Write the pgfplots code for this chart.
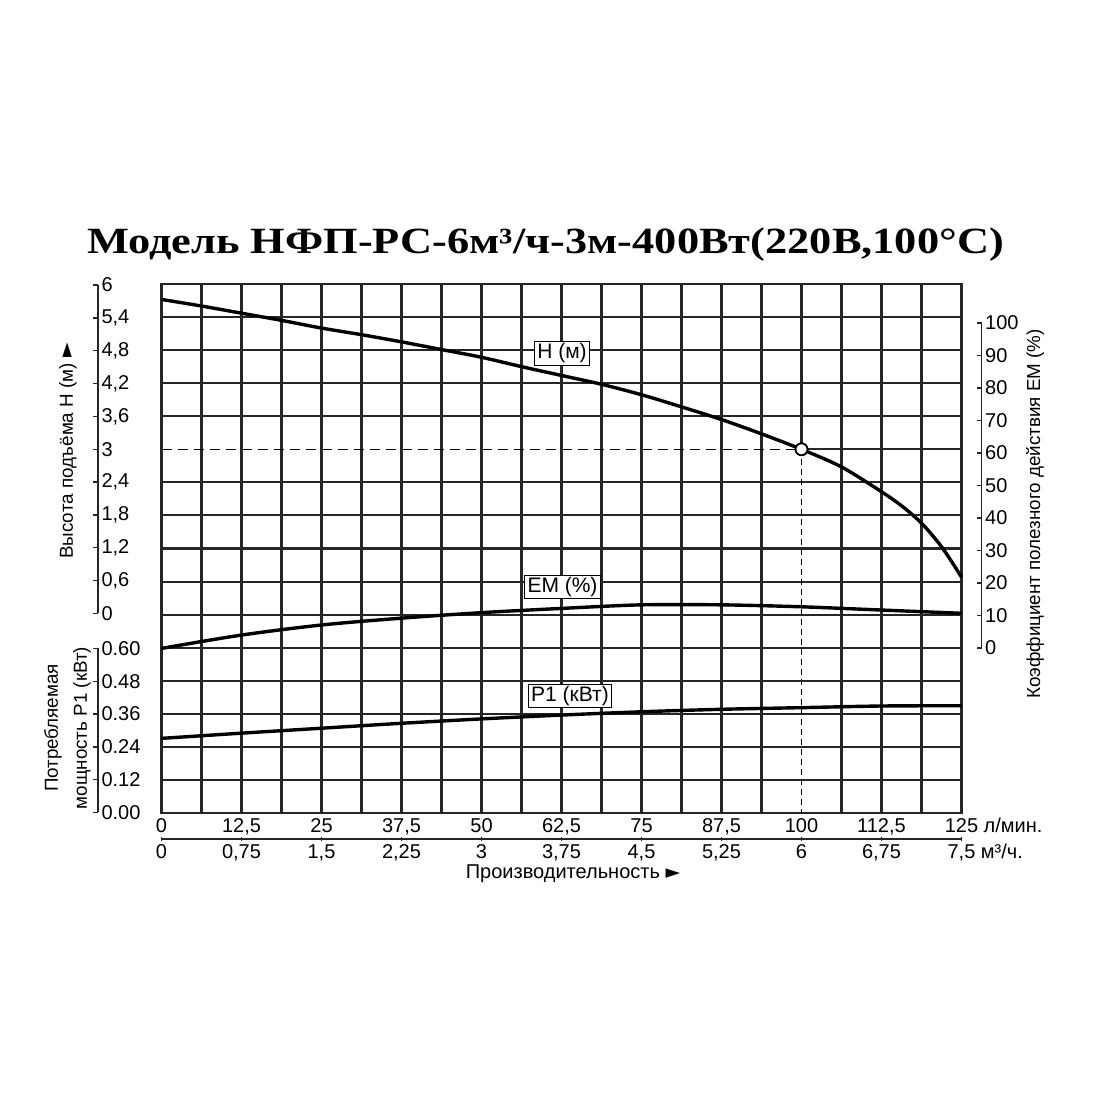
\documentclass[border=0pt]{standalone}
\usepackage{fontspec}
\setmainfont{Liberation Sans}
\newfontfamily\titlefont{Liberation Serif}
\newfontfamily\symfont{DejaVu Sans}
\usepackage{pgfplots}
\pgfplotsset{compat=1.18}
\tikzset{tl/.style={font=\fontsize{20}{23}\selectfont},
  al/.style={font=\fontsize{18.8}{22}\selectfont},
  bl/.style={draw=black, fill=white, line width=1pt, inner xsep=3pt, inner ysep=2pt, font=\fontsize{21}{24}\selectfont}}
\begin{document}
\begin{tikzpicture}[x=1pt,y=1pt]
\useasboundingbox (0,0) rectangle (1100,1100);
\pgfplotsset{every axis/.append style={scale only axis}}
% title
\node[anchor=base, xscale=1.2, font=\titlefont\bfseries\fontsize{37}{40}\selectfont] at (545.5,846) {Модель НФП-РС-6м³/ч-3м-400Вт(220В,100°С)};

% grid + H curve
\begin{axis}[at={(161.5pt,287pt)}, anchor=south west, width=800pt, height=529pt,
  xmin=0, xmax=125, ymin=-3.6, ymax=6,
  xtick={0,6.25,12.5,18.75,25,31.25,37.5,43.75,50,56.25,62.5,68.75,75,81.25,87.5,93.75,106.25,112.5,118.75,125},
  ytick={-3.6,-3,-2.4,-1.8,-1.2,-0.6,0,0.6,1.2,1.8,2.4,3.6,4.2,4.8,5.4,6},
  xticklabels={}, yticklabels={}, major tick length=0pt,
  grid=major, major grid style={black!85, line width=2.1pt},
  axis line style={black!85, line width=2.1pt}, clip=false]
  \draw[black!85, line width=2.1pt] (axis cs:100,3) -- (axis cs:100,6);
  \draw[black!85, line width=2.1pt] (axis cs:100,3) -- (axis cs:125,3);
  \addplot[black, line width=1.6pt, dash pattern=on 10pt off 6pt] coordinates {(0,3) (100,3)};
  \addplot[black, line width=1.8pt, dash pattern=on 6pt off 4pt] coordinates {(100,3) (100,-3.6)};
  \addplot[black, line width=3.4pt, smooth] coordinates {
    (0,5.72) (6.25,5.60) (12.5,5.47) (18.75,5.34) (25,5.20) (31.25,5.08) (37.5,4.95)
    (43.75,4.81) (50,4.67) (56.25,4.50) (62.5,4.34) (68.75,4.18) (75,3.99) (81.25,3.77)
    (87.5,3.54) (93.75,3.28) (100,3.00) (106.25,2.68) (112.5,2.23) (115.8,1.96)
    (118.75,1.66) (121.5,1.29) (123.3,0.99) (125,0.68)};
  \addplot[only marks, mark=*, mark size=6pt, mark options={fill=white, draw=black, line width=1.8pt}] coordinates {(100,3)};
\end{axis}

% EM curve
\begin{axis}[at={(161.5pt,451.6pt)}, anchor=south west, width=800pt, height=325pt,
  xmin=0, xmax=125, ymin=0, ymax=100, hide axis, clip=false]
  \addplot[black, line width=3.4pt, smooth] coordinates {
    (0,0) (12.5,4.1) (25,7.2) (37.5,9.3) (50,11.0) (62.5,12.3) (75,13.4) (87.5,13.4)
    (100,12.8) (112.5,11.8) (125,10.8)};
\end{axis}

% P1 curve
\begin{axis}[at={(161.5pt,287pt)}, anchor=south west, width=800pt, height=164.6pt,
  xmin=0, xmax=125, ymin=0, ymax=0.6, hide axis, clip=false]
  \addplot[black, line width=3.4pt, smooth] coordinates {
    (0,0.272) (12.5,0.291) (25,0.309) (37.5,0.327) (50,0.343) (62.5,0.357) (75,0.369)
    (87.5,0.378) (100,0.384) (112.5,0.390) (125,0.391)};
\end{axis}

% H scale
\begin{axis}[at={(97pt,486.5pt)}, anchor=south west, width=1pt, height=328.5pt,
  xmin=0, xmax=1, ymin=0, ymax=6, hide x axis, axis y line*=right,
  y axis line style={-, line width=1.4pt, black!85},
  ytick={0,0.6,1.2,1.8,2.4,3,3.6,4.2,4.8,5.4,6},
  yticklabels={0,{0,6},{1,2},{1,8},{2,4},3,{3,6},{4,2},{4,8},{5,4},6},
  tick align=inside, major tick length=5pt, tick style={line width=1.4pt, black!85},
  yticklabel style={tl, anchor=west}]
  \addplot[draw=none] coordinates {(0,0)};
\end{axis}

% P1 scale
\begin{axis}[at={(97pt,287.5pt)}, anchor=south west, width=1pt, height=164pt,
  xmin=0, xmax=1, ymin=0, ymax=0.6, hide x axis, axis y line*=right,
  y axis line style={-, line width=1.4pt, black!85},
  ytick={0,0.12,0.24,0.36,0.48,0.6},
  yticklabels={0.00,0.12,0.24,0.36,0.48,0.60},
  tick align=inside, major tick length=5pt, tick style={line width=1.4pt, black!85},
  yticklabel style={tl, anchor=west}]
  \addplot[draw=none] coordinates {(0,0)};
\end{axis}

% EM scale
\begin{axis}[at={(980.7pt,452pt)}, anchor=south west, width=1pt, height=325pt,
  xmin=0, xmax=1, ymin=0, ymax=100, hide x axis, axis y line*=right,
  y axis line style={-, line width=1.4pt, black!85},
  ytick={0,10,20,30,40,50,60,70,80,90,100},
  yticklabels={0,10,20,30,40,50,60,70,80,90,100},
  tick align=inside, major tick length=5pt, tick style={line width=1.4pt, black!85},
  yticklabel style={tl, anchor=west}]
  \addplot[draw=none] coordinates {(0,0)};
\end{axis}

% x scale: l/min (above line)
\begin{axis}[at={(161.5pt,261pt)}, anchor=north west, width=800pt, height=5pt,
  xmin=0, xmax=125, ymin=0, ymax=1, hide y axis, axis x line*=top, xticklabel pos=upper,
  x axis line style={-, line width=1.4pt, black!85},
  xtick={0,12.5,25,37.5,50,62.5,75,87.5,100,112.5,125},
  xticklabels={0,{12,5},25,{37,5},50,{62,5},75,{87,5},100,{112,5},{125\rlap{\ л/мин.}}},
  tick align=center, major tick length=4pt, tick style={line width=1.4pt, black!85},
  xticklabel style={tl, anchor=base, text height=14pt, text depth=0pt, inner sep=0pt, yshift=4pt}]
  \addplot[draw=none] coordinates {(0,0)};
\end{axis}

% x scale: m3/h (below line)
\begin{axis}[at={(161.5pt,261pt)}, anchor=south west, width=800pt, height=5pt,
  xmin=0, xmax=7.5, ymin=0, ymax=1, hide y axis, axis x line*=bottom, xticklabel pos=lower,
  x axis line style={-, line width=1.4pt, black!85},
  xtick={0,0.75,1.5,2.25,3,3.75,4.5,5.25,6,6.75,7.5},
  xticklabels={0,{0,75},{1,5},{2,25},3,{3,75},{4,5},{5,25},6,{6,75},{7,5\rlap{\ м³/ч.}}},
  tick align=center, major tick length=4pt, tick style={line width=1.4pt, black!85},
  xticklabel style={tl, anchor=base, text height=14pt, text depth=0pt, inner sep=0pt, yshift=-17.5pt}]
  \addplot[draw=none] coordinates {(0,0)};
\end{axis}

% axis titles
\node[rotate=90, al] at (68,649) {Высота подъёма H (м) {\symfont\fontsize{19}{20}\selectfont ►}};
\node[rotate=90, al] at (53,372) {Потребляемая};
\node[rotate=90, al] at (82,372) {мощность P1 (кВт)};
\node[rotate=90, al] at (1035,586) {Коэффициент полезного действия ЕМ (\%)};
\node[tl, anchor=base, inner sep=0pt] at (573,221) {Производительность {\symfont\fontsize{19}{20}\selectfont ►}};

% curve labels
\node[bl] at (562,746.5) {H (м)};
\node[bl] at (562.5,513) {EM (\%)};
\node[bl] at (570,404) {P1 (кВт)};
\end{tikzpicture}
\end{document}
